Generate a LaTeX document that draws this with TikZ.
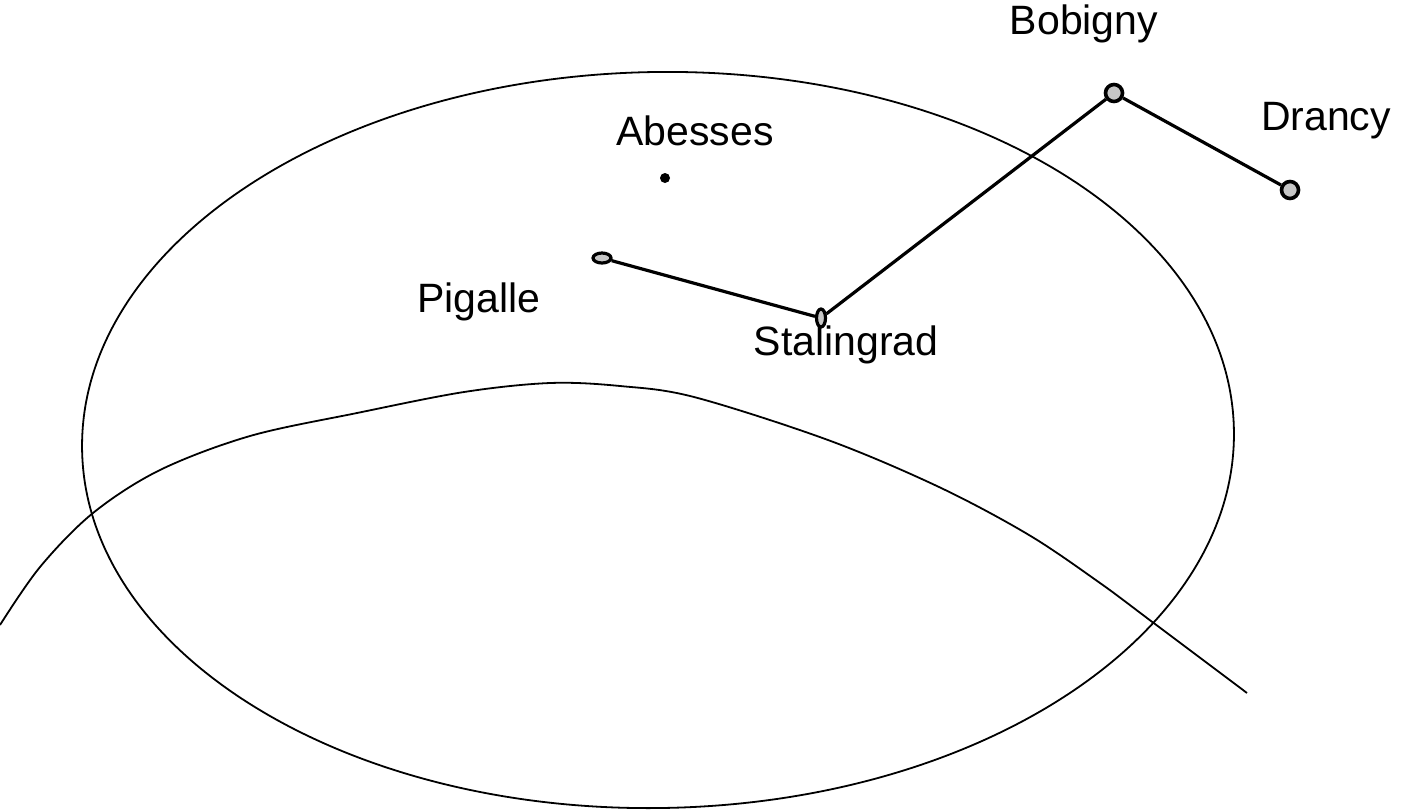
\documentclass[tikz,border=0pt]{standalone}
\usepackage{fontspec}
\setmainfont{Liberation Sans}
\usetikzlibrary{positioning,shapes.geometric}

\begin{document}
\begin{tikzpicture}[
  x=0.5pt,y=-0.5pt,
  stn/.style={circle,draw,line width=1.8pt,fill=gray!45,inner sep=0pt,minimum size=8.5pt},
  pin/.style={ellipse,draw,line width=1.6pt,fill=gray!45,inner sep=0pt},
  lbl/.style={font=\fontsize{20.5}{24}\selectfont},
  track/.style={line width=1.6pt}
]
\useasboundingbox (0,0) rectangle (1401,810);
% zone and boundary
\draw[line width=0.9pt,rotate around={1:(658,440)}] (658,440) ellipse (576 and 368);
\draw[line width=0.9pt] plot[smooth,tension=0.55] coordinates
  {(0,625) (40,567) (93,513) (160,470) (250,436) (357,413) (464,392) (550,383)
   (620,386) (694,397) (828,440) (939,487) (1029,535) (1100,583) (1151,621) (1247,693)};
% stations
\node[pin,minimum width=9pt,minimum height=5pt] (pig) at (602,258) {};
\node[pin,minimum width=4.5pt,minimum height=9pt] (sta) at (821,318) {};
\node[stn] (bob) at (1114,93) {};
\node[stn] (dra) at (1290,190) {};
\node[circle,fill,inner sep=0pt,minimum size=5pt] (abe) at (665,178) {};
% names
\node[lbl] (bobl) at (1084,24) {Bobigny};
\node[lbl] (dral) at (1326,121) {Drancy};
\node[lbl] (abel) at (695,131) {Abesses};
\node[lbl] (pigl) at (479,302) {Pigalle};
\node[lbl] (stal) at (846,345) {Stalingrad};
% line
\draw[track] (pig)--(sta);
\draw[track] (sta)--(bob);
\draw[track] (bob)--(dra);
\end{tikzpicture}
\end{document}
